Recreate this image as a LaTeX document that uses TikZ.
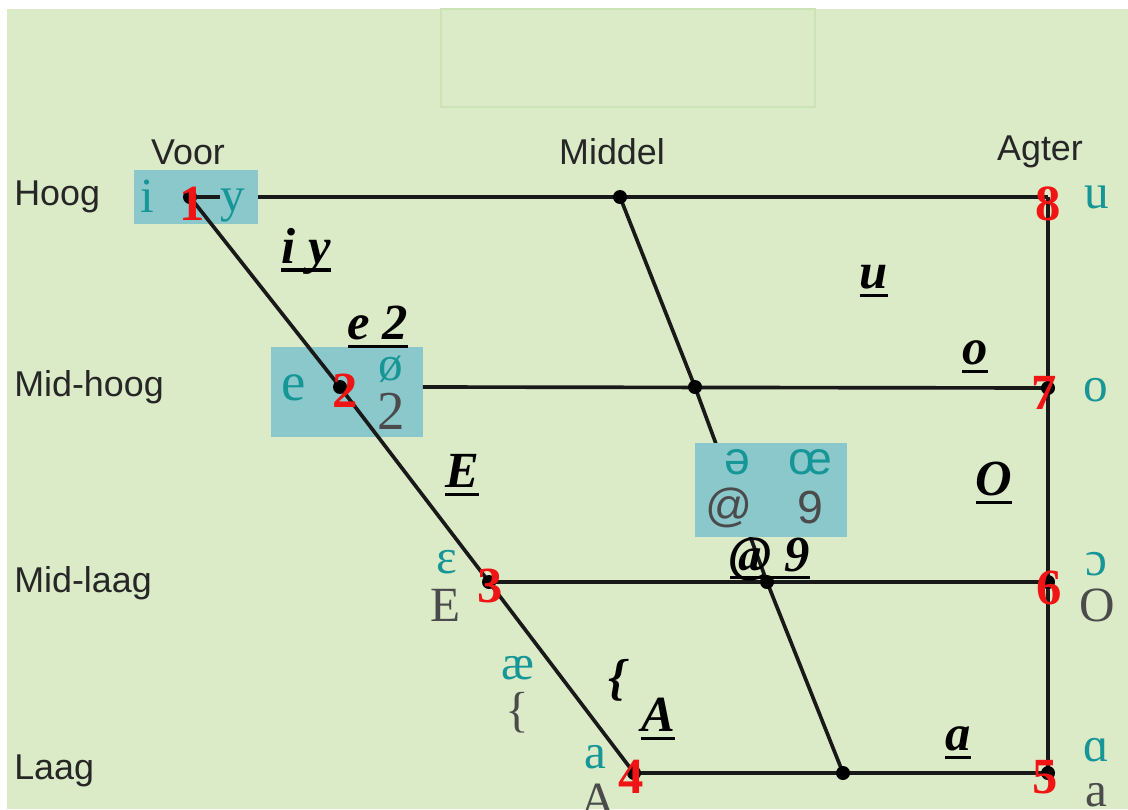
\documentclass[tikz,border=0pt]{standalone}
\usepackage{fontspec}
\setmainfont{Liberation Serif}
\setsansfont{Liberation Sans}
\usetikzlibrary{positioning}
\definecolor{bgGreen}{RGB}{219,234,199}
\definecolor{frameGreen}{RGB}{203,227,182}
\definecolor{boxBlue}{RGB}{138,200,204}
\definecolor{ipaTeal}{RGB}{22,150,150}
\definecolor{sampaGray}{RGB}{75,75,75}
\definecolor{numRed}{RGB}{240,20,20}
% thick underline for the SAMPA labels
\newcommand{\ulab}[1]{\setbox0=\hbox{#1}\rlap{\usebox0}\rule[-6pt]{\wd0}{2.2pt}}

\begin{document}
\begin{tikzpicture}[x=0.025cm, y=-0.025cm,
  rowlab/.style={font=\sffamily\fontsize{25.5}{28}\selectfont, text=black!85, anchor=west, inner sep=0pt},
  collab/.style={font=\sffamily\fontsize{25.5}{28}\selectfont, text=black!85, inner sep=0pt},
  ipa/.style={font=\fontsize{35}{37}\selectfont, text=ipaTeal, inner sep=0pt},
  sampa/.style={font=\fontsize{35}{37}\selectfont, text=sampaGray, inner sep=0pt},
  sipa/.style={font=\sffamily\fontsize{33}{35}\selectfont, text=ipaTeal, inner sep=0pt},
  ssampa/.style={font=\sffamily\fontsize{33}{35}\selectfont, text=sampaGray, inner sep=0pt},
  num/.style={font=\bfseries\fontsize{36}{38}\selectfont, text=numRed, inner sep=0pt},
  ullab/.style={font=\bfseries\itshape\fontsize{36}{38}\selectfont, text=black, inner sep=0pt},
  vbox/.style={fill=boxBlue, inner sep=0pt},
  vdot/.style={circle, fill=black, inner sep=0pt, minimum size=0.35cm},
  axis/.style={draw=black!90, line width=2.6pt}
]
  % page and faint frame
  \useasboundingbox (0,0) rectangle (1128,809);
  \fill[white] (0,0) rectangle (1128,809);
  \fill[bgGreen] (7,9) rectangle (1128,809);
  \draw[frameGreen, line width=1.2pt] (441,9) rectangle (815,107);

  % blue boxes under the lines
  \node[vbox, minimum width=3.08cm, minimum height=1.35cm] (b1) at (196,197) {};
  \node[vbox, minimum width=3.78cm, minimum height=2.25cm] (b2) at (347,392) {};

  % corner points
  \coordinate (p1) at (190,197);
  \coordinate (p2) at (340,387);
  \coordinate (p3) at (489,582);
  \coordinate (p4) at (634,773);
  \coordinate (p5) at (1048,773);
  \coordinate (p6) at (1048,582);
  \coordinate (p7) at (1048,388);
  \coordinate (p8) at (1048,197);
  \coordinate (m1) at (620,197);
  \coordinate (m2) at (695,387);
  \coordinate (m3) at (767,582);
  \coordinate (m4) at (843,773);

  % lines
  \draw[axis] (b1.east) -- (p8);
  \draw[axis] (b2.east |- p2) -- (p7);
  \draw[axis] (p3) -- (p6);
  \draw[axis] (p4) -- (p5);
  \draw[axis] (p8) -- (p5);
  \draw[axis] (p1) -- (p2) -- (p3) -- (p4);
  \draw[axis] (m1) -- (m2) -- (m3) -- (m4);
  \foreach \c in {p1,p2,p3,p4,p5,p6,p7,m1,m2,m3,m4}
    \node[vdot] (d\c) at (\c) {};

  % schwa box over the middle line
  \node[vbox, minimum width=3.8cm, minimum height=2.33cm] (b3) at (771,490) {};
  \node[sipa]   (schwa) at (737,462) {ə};
  \node[sipa]   (oe)    at (810,462) {œ};
  \node[ssampa] (at)    at (729,508) {@};
  \node[ssampa] (nine)  at (810,508) {9};

  % row and column labels
  \node[rowlab] (hoog)    at (14,197) {Hoog};
  \node[rowlab] (midhoog) at (14,387) {Mid-hoog};
  \node[rowlab] (midlaag) at (14,583) {Mid-laag};
  \node[rowlab] (laag)    at (14,771) {Laag};
  \node[collab] (voor)   at (188,152) {Voor};
  \node[collab] (middel) at (612,152) {Middel};
  \node[collab] (agter)  at (1040,152) {Agter};

  % IPA and SAMPA symbols
  \node[ipa] (iH) at (147,196) {i};
  \node[ipa] (yH) at (233,206) {y};
  \draw[axis] (p1) -- (yH.west |- p1);
  \node[ipa, font=\fontsize{39}{41}\selectfont] (eMH) at (294,388) {e};
  \node[ipa] (oslMH) at (391,369) {ø};
  \node[sampa, font=\fontsize{39}{41}\selectfont] (twoMH) at (391,411) {2};
  \node[ipa]   (epsML) at (447,562) {ɛ};
  \node[sampa] (EML)   at (446,605) {E};
  \node[ipa]   (aeL)   at (518,668) {æ};
  \node[sampa] (brL)   at (517,713) {\{};
  \node[ipa]   (aL)    at (595,757) {a};
  \node[sampa] (AL)    at (598,800) {A};
  \node[ipa]   (uA)    at (1097,197) {u};
  \node[ipa]   (oA)    at (1096,390) {o};
  \node[ipa]   (openoA) at (1096,564) {ɔ};
  \node[sampa] (OA)    at (1097,605) {O};
  \node[ipa]   (alphaA) at (1096,750) {ɑ};
  \node[sampa] (aA)    at (1096,795) {a};

  % red numbers
  \node[num] (n1) at (192,204) {1};
  \node[num] (n2) at (345,391) {2};
  \node[num] (n3) at (490,586) {3};
  \node[num] (n4) at (631,777) {4};
  \node[num] (n5) at (1045,777) {5};
  \node[num] (n6) at (1049,588) {6};
  \node[num] (n7) at (1044,393) {7};
  \node[num] (n8) at (1048,204) {8};

  % underlined SAMPA labels
  \node[ullab] (lIy)  at (306,251) {\ulab{i y}};
  \node[ullab] (lE2)  at (378,327) {\ulab{e 2}};
  \node[ullab] (lE)   at (462,475) {\ulab{E}};
  \node[ullab] (lu)   at (874,281) {\ulab{u}};
  \node[ullab] (lo)   at (975,357) {\ulab{o}};
  \node[ullab] (lO)   at (994,483) {\ulab{O}};
  \node[ullab] (lat9) at (770,559) {\ulab{@ 9}};
  \node[ullab] (lbr)  at (617,680) {\{};
  \node[ullab] (lA)   at (658,719) {\ulab{A}};
  \node[ullab] (la)   at (958,743) {\ulab{a}};
\end{tikzpicture}
\end{document}
